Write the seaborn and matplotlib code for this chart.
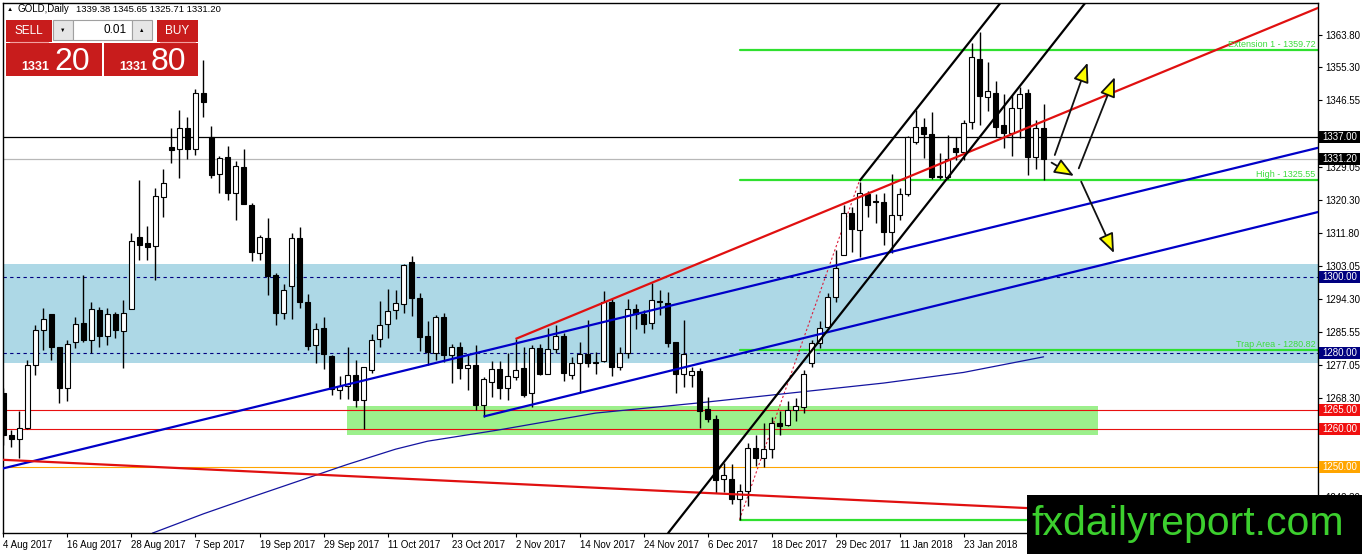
import numpy as np
import pandas as pd
import matplotlib
matplotlib.use("Agg")
import matplotlib.pyplot as plt
import matplotlib.transforms as mtrans
from matplotlib.patches import Rectangle
import seaborn as sns

# GOLD daily candles, bar 0 = 4 Aug 2017, last bar = 6 Feb 2018
open_ = [1269.5, 1258.5, 1257.4, 1260.5, 1276.9, 1286.2, 1290.3, 1281.6, 1271.0, 1283.1,
         1287.9, 1283.5, 1291.4, 1284.7, 1290.5, 1286.0, 1291.7, 1310.6, 1309.1, 1308.3,
         1321.1, 1334.2, 1333.7, 1339.2, 1333.9, 1348.6, 1336.9, 1327.1, 1331.6, 1322.3,
         1329.0, 1319.1, 1306.5, 1310.3, 1300.6, 1290.6, 1297.7, 1310.3, 1293.5, 1282.1,
         1286.6, 1279.3, 1270.4, 1271.3, 1274.3, 1267.7, 1275.6, 1283.7, 1287.7, 1291.4,
         1293.0, 1304.0, 1294.5, 1284.6, 1280.2, 1289.5, 1279.6, 1281.8, 1276.1, 1276.9,
         1266.4, 1272.6, 1275.8, 1270.8, 1273.9, 1276.1, 1269.7, 1281.3, 1274.7, 1281.1,
         1284.6, 1274.3, 1277.5, 1279.8, 1277.4, 1278.1, 1293.6, 1276.3, 1280.0, 1291.6,
         1290.4, 1288.1, 1293.8, 1293.2, 1283.1, 1274.6, 1274.3, 1275.4, 1265.3, 1262.7,
         1246.9, 1246.9, 1241.6, 1243.9, 1255.0, 1252.4, 1254.8, 1261.6, 1261.2, 1265.1,
         1266.0, 1277.6, 1282.7, 1286.9, 1294.8, 1305.9, 1317.0, 1312.5, 1322.0, 1319.9,
         1319.9, 1312.0, 1316.4, 1322.0, 1335.7, 1339.7, 1337.8, 1326.3, 1326.3, 1334.0,
         1333.1, 1341.0, 1357.4, 1347.4, 1348.5, 1340.0, 1337.9, 1344.5, 1348.5, 1331.8,
         1339.38]
high = [1271.0, 1259.8, 1264.9, 1278.4, 1287.5, 1291.9, 1290.3, 1281.8, 1283.5, 1289.7,
        1300.6, 1293.4, 1292.1, 1291.9, 1291.0, 1294.1, 1311.6, 1325.6, 1313.4, 1323.4,
        1328.5, 1339.2, 1344.1, 1342.3, 1349.5, 1357.2, 1339.9, 1332.0, 1334.6, 1330.5,
        1333.7, 1319.5, 1311.2, 1315.6, 1301.1, 1298.3, 1311.8, 1313.2, 1295.6, 1288.1,
        1289.7, 1279.6, 1274.1, 1281.6, 1278.4, 1276.3, 1285.1, 1293.9, 1296.9, 1296.7,
        1303.5, 1305.6, 1295.8, 1288.4, 1290.1, 1290.7, 1282.6, 1283.1, 1279.6, 1282.2,
        1273.9, 1278.1, 1278.1, 1280.0, 1283.7, 1281.8, 1282.2, 1282.5, 1286.8, 1287.5,
        1285.3, 1279.1, 1283.1, 1288.8, 1280.4, 1296.5, 1294.2, 1281.8, 1294.2, 1293.0,
        1291.4, 1298.4, 1296.8, 1296.2, 1283.1, 1288.8, 1276.5, 1276.1, 1268.6, 1263.8,
        1251.1, 1250.9, 1245.6, 1256.5, 1258.5, 1261.6, 1263.4, 1264.9, 1267.6, 1268.4,
        1275.6, 1283.5, 1288.4, 1296.0, 1307.2, 1319.1, 1318.4, 1325.2, 1322.8, 1322.0,
        1322.1, 1327.2, 1323.5, 1337.2, 1344.1, 1341.9, 1343.4, 1332.7, 1337.5, 1337.0,
        1341.4, 1361.8, 1364.7, 1356.8, 1351.8, 1348.3, 1348.0, 1350.2, 1349.5, 1341.4,
        1345.65]
low = [1256.0, 1255.4, 1252.4, 1260.0, 1274.3, 1280.9, 1278.4, 1267.0, 1267.6, 1281.5,
       1283.1, 1280.2, 1281.8, 1282.2, 1284.0, 1276.2, 1291.7, 1304.6, 1304.6, 1299.2,
       1316.0, 1330.0, 1326.1, 1331.2, 1332.2, 1342.3, 1326.1, 1322.3, 1320.4, 1315.1,
       1319.3, 1304.2, 1304.6, 1295.4, 1287.5, 1289.0, 1289.0, 1291.9, 1280.9, 1277.4,
       1275.8, 1269.1, 1267.9, 1267.9, 1266.0, 1260.1, 1274.8, 1281.6, 1284.0, 1289.0,
       1290.7, 1289.9, 1280.7, 1277.0, 1278.3, 1277.8, 1272.1, 1273.2, 1270.4, 1265.1,
       1263.3, 1268.6, 1267.9, 1267.7, 1273.0, 1268.6, 1266.0, 1274.3, 1274.6, 1280.0,
       1272.8, 1273.2, 1269.5, 1276.5, 1274.7, 1277.8, 1274.0, 1275.6, 1278.7, 1286.3,
       1285.3, 1286.3, 1290.1, 1281.6, 1269.7, 1271.1, 1271.2, 1260.3, 1262.0, 1243.2,
       1243.6, 1240.3, 1236.3, 1239.9, 1250.4, 1250.2, 1252.4, 1258.5, 1260.9, 1262.3,
       1264.4, 1276.5, 1281.3, 1286.6, 1293.4, 1305.9, 1306.8, 1305.3, 1316.0, 1314.2,
       1308.5, 1306.3, 1315.1, 1321.3, 1335.1, 1331.3, 1325.8, 1325.8, 1325.8, 1330.9,
       1330.9, 1339.0, 1340.1, 1343.9, 1337.0, 1334.0, 1332.0, 1336.6, 1326.9, 1328.5,
       1325.71]
close = [1258.5, 1257.4, 1260.5, 1276.9, 1286.2, 1289.0, 1281.8, 1271.0, 1282.6, 1287.7,
         1283.5, 1291.6, 1284.7, 1290.5, 1286.2, 1290.7, 1309.7, 1308.5, 1308.1, 1321.3,
         1324.8, 1333.5, 1339.2, 1333.7, 1348.6, 1346.1, 1327.0, 1331.3, 1322.1, 1329.3,
         1319.3, 1306.8, 1310.6, 1300.5, 1290.6, 1296.7, 1310.3, 1293.4, 1282.0, 1286.5,
         1279.9, 1270.6, 1271.4, 1274.3, 1267.7, 1276.3, 1283.5, 1287.5, 1291.2, 1293.2,
         1303.3, 1294.5, 1284.4, 1280.5, 1289.5, 1279.6, 1281.8, 1276.1, 1277.0, 1266.4,
         1273.2, 1275.8, 1270.8, 1274.0, 1275.6, 1269.0, 1281.3, 1274.7, 1281.1, 1284.6,
         1274.9, 1277.5, 1279.8, 1277.5, 1277.8, 1293.6, 1276.3, 1280.0, 1291.6, 1290.4,
         1287.7, 1294.0, 1293.5, 1282.8, 1274.6, 1279.8, 1275.4, 1264.9, 1262.7, 1246.7,
         1248.0, 1241.6, 1243.9, 1255.0, 1252.4, 1254.8, 1261.6, 1260.9, 1265.1, 1266.2,
         1274.6, 1282.7, 1286.6, 1294.8, 1302.4, 1316.9, 1312.7, 1322.3, 1319.1, 1319.8,
         1312.0, 1316.4, 1322.0, 1337.0, 1339.5, 1337.8, 1326.3, 1326.6, 1331.1, 1333.1,
         1340.7, 1358.0, 1347.6, 1349.1, 1339.7, 1337.9, 1344.5, 1348.3, 1331.8, 1339.3,
         1331.20]

date_bars = [0, 8, 16, 24, 32, 40, 48, 56, 64, 72, 80, 88, 96, 104, 112, 120]
date_labels = ["4 Aug 2017", "16 Aug 2017", "28 Aug 2017", "7 Sep 2017", "19 Sep 2017",
               "29 Sep 2017", "11 Oct 2017", "23 Oct 2017", "2 Nov 2017", "14 Nov 2017",
               "24 Nov 2017", "6 Dec 2017", "18 Dec 2017", "29 Dec 2017", "11 Jan 2018",
               "23 Jan 2018"]
# scale ticks (those hidden under the coloured price boxes are left out)
price_ticks = [1363.80, 1355.30, 1346.55, 1329.05, 1320.30, 1311.80, 1303.05,
               1294.30, 1285.55, 1277.05, 1268.30, 1242.30]

# slow moving average (thin blue curve)
ma_bars = [18.6, 25, 31, 37, 43, 49, 53, 62, 74, 87, 110, 120, 130]
ma_values = [1232.7, 1237.8, 1242.2, 1246.5, 1250.8, 1254.8, 1256.9, 1259.9, 1264.3,
             1267.0, 1272.2, 1275.0, 1279.1]

bid, ask = 1331.20, 1331.80
black_level = 1337.00
navy_levels = [1300.00, 1280.00]
red_levels = [1265.00, 1260.00]
orange_level = 1250.00
blue_zone = (1277.6, 1303.5)
green_zone = (42.9, 136.8, 1258.6, 1266.1)   # bar from, bar to, price low, price high

fib_bar = 92
fib_levels = [1359.72, 1325.55, 1280.82, 1236.30]
fib_labels = ["Extension 1 - 1359.72", "High - 1325.55", "Trap Area - 1280.82", ""]
fib_swing = ([92, 107], [1236.3, 1325.55])

# trendlines: (bar0, price0, bar1, price1, colour, ray?)
trendlines = [
    (0.06, 1249.8, 164.3, 1334.1, "#0000c8", False),
    (60.0, 1263.4, 164.3, 1317.2, "#0000c8", True),
    (64.0, 1283.8, 164.3, 1370.9, "#e01010", True),
    (0.06, 1252.0, 164.3, 1235.7, "#e01010", False),
    (83.06, 1232.7, 135.2, 1372.2, "black", False),
    (107.0, 1325.4, 124.6, 1372.2, "black", True),
]

# scenario arrows: (start bar, start price, tip bar, tip price)
arrows = [
    (131.4, 1332.2, 135.5, 1356.5),
    (134.4, 1328.7, 138.9, 1352.7),
    (131.0, 1330.2, 133.8, 1326.7),
    (134.7, 1325.2, 138.8, 1306.4),
]

x_left, x_right = -0.06, 164.3
y_low, y_high = 1232.75, 1372.2

sns.set_theme(style="white")
plt.rcParams["font.family"] = ["Liberation Sans", "DejaVu Sans"]

W, H = 1362, 554
fig = plt.figure(figsize=(W / 100, H / 100), dpi=100)
ax = fig.add_axes([3 / W, (H - 533) / H, (1318 - 3) / W, (533 - 3) / H])
ax.set_xlim(x_left, x_right)
ax.set_ylim(y_low, y_high)

# zones and horizontal levels
ax.axhspan(*blue_zone, color="#add8e6", lw=0, zorder=0.5)
ax.add_patch(Rectangle((green_zone[0], green_zone[2]), green_zone[1] - green_zone[0],
                       green_zone[3] - green_zone[2], color="#9cf08c", lw=0, zorder=0.6))
for lv in navy_levels:
    ax.axhline(lv, color="#000080", lw=0.8, ls=(0, (3, 3)), zorder=1)
for lv in red_levels:
    ax.axhline(lv, color="#e81010", lw=0.8, zorder=1)
ax.axhline(orange_level, color="#ffa500", lw=0.8, zorder=1)
ax.axhline(black_level, color="black", lw=0.9, zorder=1)
ax.axhline(bid, color="#b8b8b8", lw=0.9, zorder=1)

# fibo levels
for lv, lab in zip(fib_levels, fib_labels):
    ax.plot([fib_bar, x_right], [lv, lv], color="#2fe02f", lw=1.6, zorder=2)
    if lab:
        ax.text(x_right - 0.3, lv + 0.35, lab, ha="right", va="bottom", fontsize=6.5,
                color="#3ddc3d", zorder=6)
ax.plot(*fib_swing, color="#dc1e3c", lw=0.8, ls=(0, (2, 2)), zorder=2)

# moving average
sns.lineplot(x=ma_bars, y=ma_values, ax=ax, color="#1414a0", lw=0.9, zorder=2)

# candles
df = pd.DataFrame({"bar": np.arange(len(close)), "open": open_, "high": high,
                   "low": low, "close": close})
rising = df["close"] >= df["open"]
ax.vlines(df["bar"], df["low"], df["high"], color="black", lw=1.0, zorder=3)
body = (df["close"] - df["open"]).abs().clip(lower=0.3)
ax.bar(df["bar"], body, bottom=df[["open", "close"]].min(axis=1), width=0.62,
       color=np.where(rising, "white", "black"), edgecolor="black", linewidth=0.8, zorder=4)

# trendlines
for b0, p0, b1, p1, col, is_ray in trendlines:
    if is_ray:
        slope = (p1 - p0) / (b1 - b0)
        ax.plot([b0, x_right + 5], [p0, p0 + slope * (x_right + 5 - b0)], color=col,
                lw=1.6, zorder=5, solid_capstyle="butt")
    else:
        ax.axline((b0, p0), (b1, p1), color=col, lw=1.6, zorder=5)

for b0, p0, b1, p1 in arrows:
    ax.annotate("", xy=(b1, p1), xytext=(b0, p0), zorder=6,
                arrowprops=dict(arrowstyle="-|>,head_length=1.0,head_width=0.4",
                                fc="#ffff00", ec="#111111", lw=1.3,
                                shrinkA=0, shrinkB=0))

# axes styling
for sp in ax.spines.values():
    sp.set_color("black")
    sp.set_linewidth(1.0)
ax.grid(False)
ax.set_xlabel("")
ax.set_ylabel("")
ax.yaxis.tick_right()
ax.set_yticks(price_ticks)
ax.set_yticklabels([f"{v:.2f}" for v in price_ticks])
ax.tick_params(axis="y", direction="out", length=3, width=0.8, pad=2,
               labelsize=7, colors="black", right=True, left=False)
ax.set_xticks(date_bars)
ax.set_xticklabels(date_labels)
for t in ax.get_xticklabels():
    t.set_ha("left")
ax.tick_params(axis="x", direction="out", length=3, width=0.8, pad=2,
               labelsize=7, colors="black", bottom=True)

# coloured price labels on the scale
trans = mtrans.blended_transform_factory(ax.transAxes, ax.transData)
box_w = 41 / 1315
box_h = 12 / 3.8
price_boxes = [(black_level, "black"), (bid, "black"), (navy_levels[0], "#000080"),
               (navy_levels[1], "#000080"), (red_levels[0], "#f01010"),
               (red_levels[1], "#f01010"), (orange_level, "#ffa500")]
for val, fc in price_boxes:
    ax.add_patch(Rectangle((1.0 + 1.5 / 1315, val - box_h / 2), box_w, box_h,
                           transform=trans, fc=fc, ec="none", clip_on=False, zorder=19))
    ax.text(1.0 + 4 / 1315, val, f"{val:.2f}", transform=trans, ha="left",
            va="center", fontsize=7, color="white", zorder=20, clip_on=False)

# overlay in pixel units for the terminal decorations
ui = fig.add_axes([0, 0, 1, 1], facecolor="none")
ui.set_xlim(0, W)
ui.set_ylim(H, 0)
ui.axis("off")

ui.text(7, 9.5, "\u25B2", fontsize=4.5, ha="left", va="center", color="black")
ui.text(18, 9.5, "GOLD,Daily", fontsize=7, ha="left", va="center", color="black")
ui.text(76, 9.5, f"{open_[-1]:.2f} {high[-1]:.2f} {low[-1]:.2f} {close[-1]:.2f}",
        fontsize=6.8, ha="left", va="center", color="black")

red = "#c81c1c"


def box(x0, y0, x1, y1, fc, ec="none", lw=0):
    ui.add_patch(Rectangle((x0, y0), x1 - x0, y1 - y0, fc=fc, ec=ec, lw=lw))


box(6, 20, 52, 42, red)
box(6, 43, 102, 76, red)
box(157, 20, 198, 42, red)
box(104, 43, 198, 76, red)
box(53, 20, 73, 40, "#e6e6e6", "#a0a0a0", 0.8)
box(73, 20, 132, 40, "white", "#a0a0a0", 0.8)
box(132, 20, 152, 40, "#e6e6e6", "#a0a0a0", 0.8)
ui.plot([10, 48], [41.5, 41.5], color="#f2a0a0", lw=0.8)
ui.plot([160, 195], [41.5, 41.5], color="#f2a0a0", lw=0.8)
ui.text(29, 31, "SELL", color="white", fontsize=8.5, ha="center", va="center")
ui.text(177.5, 31, "BUY", color="white", fontsize=8.5, ha="center", va="center")
ui.text(127, 30, "0.01", color="black", fontsize=8.5, ha="right", va="center")
ui.text(63, 30, "\u25BC", color="black", fontsize=4, ha="center", va="center")
ui.text(142, 30, "\u25B2", color="black", fontsize=4, ha="center", va="center")
bid_big, bid_small = f"{bid:.2f}".split(".")
ask_big, ask_small = f"{ask:.2f}".split(".")
ui.text(49.5, 70.5, bid_big, color="white", fontsize=9, fontweight="bold",
        ha="right", va="baseline")
ui.text(54, 70.5, bid_small, color="white", fontsize=23, ha="left", va="baseline")
ui.text(147, 70.5, ask_big, color="white", fontsize=9, fontweight="bold",
        ha="right", va="baseline")
ui.text(151, 70.5, ask_small, color="white", fontsize=23, ha="left", va="baseline")

# watermark
box(1027, 495, W, H, "black")
ui.text(1188, 535, "fxdailyreport.com", color="#3ccf2e", fontsize=29.5,
        ha="center", va="baseline")

fig.savefig("out.png", dpi=100)
